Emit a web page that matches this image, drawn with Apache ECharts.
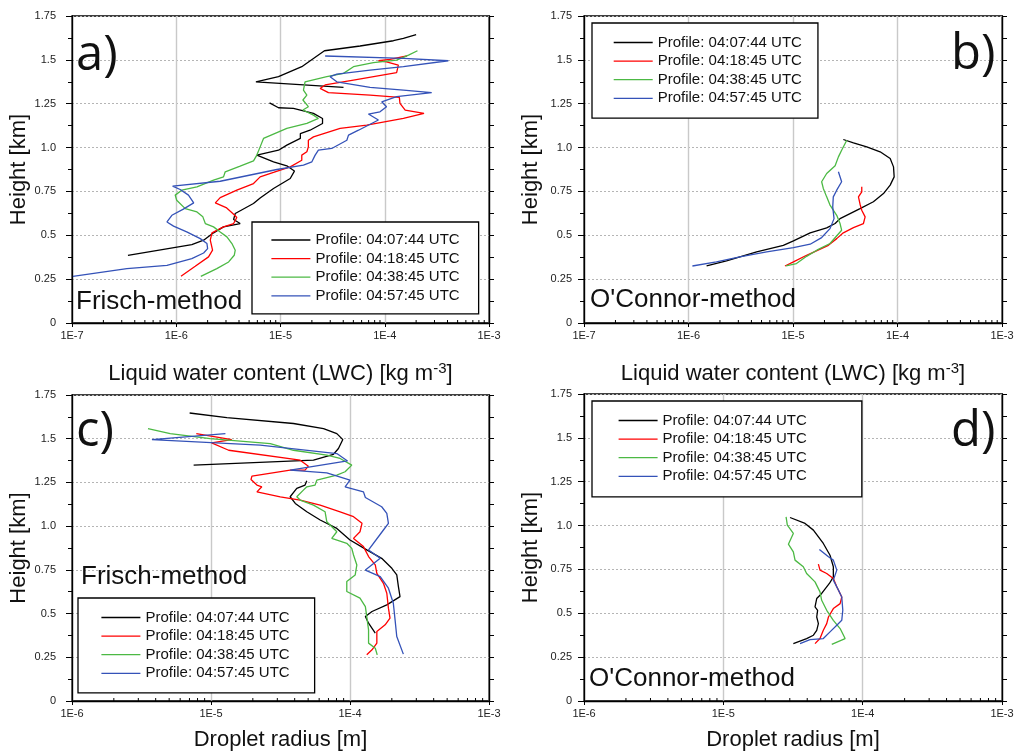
<!DOCTYPE html>
<html>
<head>
<meta charset="utf-8">
<script src="https://cdn.jsdelivr.net/npm/echarts@6/dist/echarts.min.js"></script>
<style>
html,body{margin:0;padding:0;background:#fff;}
#chart{width:1015px;height:751px;}
</style>
</head>
<body>
<div id="chart"></div>
<script>
// ---------- labels / categories ----------
const profileNames = ['Profile: 04:07:44 UTC','Profile: 04:18:45 UTC','Profile: 04:38:45 UTC','Profile: 04:57:45 UTC'];
const profileColors = ['#000000','#ff0000','#4cb944','#3452b8'];
const heightTicks = [0,0.25,0.5,0.75,1.0,1.25,1.5,1.75];
const heightTickLabels = ['0','0.25','0.5','0.75','1.0','1.25','1.5','1.75'];
const lwcDecades = [1e-7,1e-6,1e-5,1e-4,1e-3];
const lwcTickLabels = ['1E-7','1E-6','1E-5','1E-4','1E-3'];
const radDecades = [1e-6,1e-5,1e-4,1e-3];
const radTickLabels = ['1E-6','1E-5','1E-4','1E-3'];

// ---------- a) LWC, Frisch-method  [LWC kg m-3, height km] ----------
const lwcFrisch0407 = [[3.44e-7,0.386],[1.41e-6,0.447],[1.83e-6,0.472],[2.28e-6,0.514],[2.84e-6,0.548],[4.1e-6,0.567],[3.55e-6,0.590],[3.68e-6,0.624],[5.5e-6,0.681],[6.38e-6,0.713],[8.57e-6,0.767],[1.24e-5,0.824],[1.36e-5,0.866],[1.15e-5,0.896],[8.57e-6,0.919],[5.93e-6,0.957],[9.57e-6,0.985],[1.15e-5,1.014],[1.55e-5,1.052],[1.55e-5,1.080],[1.92e-5,1.099],[2.53e-5,1.137],[2.53e-5,1.166],[2.07e-5,1.195],[1.33e-5,1.223],[9.57e-6,1.227],[7.85e-6,1.255],['-','-'],[4.02e-5,1.343],[5.81e-6,1.375],[9.57e-6,1.404],[1.6e-5,1.461],[2.07e-5,1.508],[2.64e-5,1.552],[5.8e-5,1.579],[1.21e-4,1.609],[1.51e-4,1.623],[2.0e-4,1.644]];
const lwcFrisch0418 = [[1.11e-6,0.266],[1.52e-6,0.323],[2.04e-6,0.377],[2.23e-6,0.415],[2.12e-6,0.472],[2.2e-6,0.514],[2.84e-6,0.548],[3.55e-6,0.567],[3.81e-6,0.601],[3.55e-6,0.620],[3.01e-6,0.658],[2.37e-6,0.685],[2.64e-6,0.715],[3.81e-6,0.757],[5.51e-6,0.795],[6.38e-6,0.833],[8.57e-6,0.858],[1.24e-5,0.890],[1.6e-5,0.928],[1.6e-5,0.957],[1.79e-5,0.976],[1.85e-5,1.004],[1.85e-5,1.042],[2.07e-5,1.061],[3.73e-5,1.109],[6.72e-5,1.128],[1.51e-4,1.166],[2.38e-4,1.195],[1.57e-4,1.214],[1.4e-4,1.252],[1.38e-4,1.286],[7.23e-5,1.299],[2.88e-5,1.313],[2.4e-5,1.337],[2.68e-5,1.357],[5.01e-5,1.385],[1.3e-4,1.427],[1.35e-4,1.470],[1.04e-4,1.489],[8.69e-5,1.495],[1.12e-4,1.503],[1.63e-4,1.522]];
const lwcFrisch0438 = [[1.72e-6,0.266],[2.45e-6,0.310],[3.18e-6,0.348],[3.6e-6,0.386],[3.68e-6,0.415],[3.42e-6,0.453],[3.06e-6,0.491],[2.64e-6,0.519],[2.28e-6,0.548],[1.9e-6,0.567],[1.8e-6,0.605],[1.58e-6,0.633],[1.22e-6,0.652],[1.01e-6,0.700],[9.77e-7,0.729],[1.13e-6,0.757],[1.58e-6,0.776],[2.28e-6,0.814],[2.84e-6,0.833],[2.95e-6,0.862],[4.1e-6,0.894],[5.51e-6,0.924],[5.93e-6,0.957],[6.38e-6,1.004],[6.87e-6,1.052],[1.15e-5,1.109],[1.79e-5,1.138],[2.31e-5,1.166],[2.07e-5,1.185],[1.64e-5,1.214],[1.85e-5,1.233],[1.64e-5,1.271],[1.79e-5,1.299],[1.66e-5,1.328],[1.72e-5,1.375],[2.78e-5,1.404],[4.02e-5,1.423],[5.01e-5,1.461],[7.78e-5,1.484],[1.3e-4,1.499],[1.69e-4,1.527],[2.06e-4,1.552]];
const lwcFrisch0457 = [[1.02e-7,0.266],[3.36e-7,0.310],[8.15e-7,0.329],[1.41e-6,0.367],[1.83e-6,0.399],[2.0e-6,0.424],[1.97e-6,0.453],[1.7e-6,0.481],[1.26e-6,0.519],[9.42e-7,0.552],[8.15e-7,0.576],[9.08e-7,0.614],[1.17e-6,0.649],[1.47e-6,0.685],[1.31e-6,0.729],[1.09e-6,0.761],[9.23e-7,0.780],[2.64e-6,0.808],[9.23e-6,0.875],[1.66e-5,0.900],[2.0e-5,0.919],[2.15e-5,0.957],[2.31e-5,0.985],[3.1e-5,0.995],[4.33e-5,1.042],[4.49e-5,1.071],[5.6e-5,1.099],[8.69e-5,1.157],[6.97e-5,1.191],[9.0e-5,1.204],[1.04e-4,1.233],[9.35e-5,1.261],[1.3e-4,1.290],[2.82e-4,1.313],[1.51e-4,1.328],[7.23e-5,1.343],[3.47e-5,1.375],[2.99e-5,1.404],[3.47e-5,1.419],[7.23e-5,1.442],[1.51e-4,1.461],[4.07e-4,1.495],[1.51e-4,1.508],[2.68e-5,1.522]];

// ---------- b) LWC, O'Connor-method ----------
const lwcOConnor0407 = [[1.49e-6,0.325],[2.31e-6,0.354],[4.49e-6,0.405],[8.08e-6,0.443],[1.01e-5,0.468],[1.46e-5,0.514],[2.1e-5,0.542],[2.53e-5,0.567],[2.82e-5,0.595],[4.38e-5,0.652],[5.88e-5,0.691],[7.34e-5,0.738],[8.51e-5,0.786],[9.29e-5,0.833],[9.16e-5,0.890],[8.51e-5,0.938],[6.82e-5,0.976],[5.08e-5,1.004],[3.79e-5,1.027],[3.03e-5,1.046]];
const lwcOConnor0418 = [[8.38e-6,0.325],[1.01e-5,0.348],[1.35e-5,0.386],[2.18e-5,0.443],[2.62e-5,0.481],[3.03e-5,0.514],[3.79e-5,0.544],[4.72e-5,0.567],[4.9e-5,0.605],[4.55e-5,0.643],[4.38e-5,0.677],[4.23e-5,0.719],[4.55e-5,0.748],[4.55e-5,0.776]];
const lwcOConnor0438 = [[8.57e-6,0.325],[1.08e-5,0.339],[1.35e-5,0.380],[1.69e-5,0.415],[2.26e-5,0.453],[2.92e-5,0.529],[2.82e-5,0.567],[2.62e-5,0.614],[2.26e-5,0.672],[2.1e-5,0.719],[1.95e-5,0.767],[1.88e-5,0.805],[2.1e-5,0.852],[2.53e-5,0.896],[2.72e-5,0.947],[2.92e-5,0.985],[3.27e-5,1.042]];
const lwcOConnor0457 = [[1.09e-6,0.325],[1.85e-6,0.348],[3.1e-6,0.377],[5.6e-6,0.405],[1.01e-5,0.430],[1.46e-5,0.449],[1.88e-5,0.487],[2.26e-5,0.538],[2.47e-5,0.595],[2.4e-5,0.662],[2.43e-5,0.719],[2.62e-5,0.757],[2.92e-5,0.805],[2.72e-5,0.862]];

// ---------- c) droplet radius, Frisch-method [m, km] ----------
const radFrisch0407 = [[7.02e-6,1.647],[1.3e-5,1.621],[3.92e-5,1.587],[6.45e-5,1.558],[8.04e-5,1.529],[8.88e-5,1.495],[8.26e-5,1.444],[7.6e-5,1.411],[5.46e-5,1.377],[7.5e-6,1.349],['-','-'],[4.89e-5,1.259],[4.75e-5,1.235],[4.14e-5,1.216],[3.71e-5,1.168],[4.04e-5,1.130],[4.89e-5,1.082],[6.1e-5,1.035],[8.04e-5,0.987],[1.0e-4,0.921],[1.32e-4,0.864],[1.69e-4,0.816],[2.0e-4,0.759],[2.17e-4,0.721],[2.23e-4,0.654],[2.29e-4,0.597],[1.84e-4,0.550],[1.44e-4,0.512],[1.29e-4,0.483],[1.36e-4,0.445],[1.52e-4,0.388]];
const radFrisch0418 = [[7.84e-6,1.529],[1.41e-5,1.495],[1.01e-5,1.476],[1.34e-5,1.434],[4.38e-5,1.377],[5.02e-5,1.343],[4.75e-5,1.320],[3.71e-5,1.320],[1.97e-5,1.286],[1.94e-5,1.267],[2.14e-5,1.235],[2.32e-5,1.225],[2.14e-5,1.196],[3.15e-5,1.168],[4.38e-5,1.149],[6.1e-5,1.120],[8.49e-5,1.082],[1.06e-4,1.054],[1.22e-4,1.016],[1.18e-4,0.968],[1.06e-4,0.930],[1.25e-4,0.883],[1.36e-4,0.826],[1.52e-4,0.778],[1.56e-4,0.730],[1.74e-4,0.673],[1.84e-4,0.616],[1.89e-4,0.531],[1.94e-4,0.474],[1.79e-4,0.436],[1.56e-4,0.398],[1.56e-4,0.331],[1.44e-4,0.293],[1.32e-4,0.264]];
const radFrisch0438 = [[3.52e-6,1.558],[5.09e-6,1.529],[9.86e-6,1.501],[2.67e-5,1.472],[3.92e-5,1.434],[6.81e-5,1.406],[8.49e-5,1.387],[1.03e-4,1.349],[9.22e-5,1.311],[8.04e-5,1.292],[5.77e-5,1.263],[5.61e-5,1.235],[4.89e-5,1.225],[4.62e-5,1.206],[4.14e-5,1.168],[4.38e-5,1.149],[5.46e-5,1.120],[6.62e-5,1.082],[6.81e-5,1.025],[8.04e-5,0.968],[7.39e-5,0.930],[9.48e-5,0.902],[1.03e-4,0.873],[1.06e-4,0.835],[1.12e-4,0.778],[1.09e-4,0.721],[9.48e-5,0.683],[9.48e-5,0.626],[1.18e-4,0.588],[1.29e-4,0.540],[1.32e-4,0.483],[1.36e-4,0.407],[1.36e-4,0.331],[1.52e-4,0.302],[1.57e-4,0.264]];
const radFrisch0457 = [[1.27e-5,1.529],[3.76e-6,1.495],[2.26e-5,1.463],[8.04e-5,1.415],[9.6e-5,1.373],[3.71e-5,1.320],[6.81e-5,1.305],[1.0e-4,1.263],[9.22e-5,1.225],[1.25e-4,1.196],[1.29e-4,1.164],[1.69e-4,1.111],[1.84e-4,1.073],[1.89e-4,1.016],[1.74e-4,0.978],[1.36e-4,0.864],[1.65e-4,0.816],[1.29e-4,0.749],[1.65e-4,0.711],[1.89e-4,0.645],[2.05e-4,0.559],[2.11e-4,0.464],[2.17e-4,0.369],[2.42e-4,0.268]];

// ---------- d) droplet radius, O'Connor-method ----------
const radOConnor0407 = [[3.01e-5,1.046],[3.86e-5,1.012],[4.43e-5,0.974],[5.22e-5,0.898],[5.83e-5,0.831],[6.16e-5,0.765],[6.16e-5,0.708],[5.77e-5,0.670],[5.08e-5,0.613],[4.68e-5,0.584],[4.55e-5,0.536],[4.75e-5,0.517],[4.68e-5,0.479],[4.81e-5,0.441],[4.68e-5,0.403],[4.43e-5,0.375],[3.96e-5,0.356],[3.18e-5,0.327]];
const radOConnor0418 = [[4.81e-5,0.780],[4.94e-5,0.746],[5.52e-5,0.727],[6.16e-5,0.698],[6.52e-5,0.651],[7.08e-5,0.593],[6.89e-5,0.555],[6.16e-5,0.527],[5.68e-5,0.479],[5.52e-5,0.441],[5.22e-5,0.403],[4.94e-5,0.356],[4.55e-5,0.327]];
const radOConnor0438 = [[2.82e-5,1.050],[2.88e-5,1.002],[3.18e-5,0.955],[2.93e-5,0.894],[3.18e-5,0.850],[3.27e-5,0.803],[3.75e-5,0.765],[3.96e-5,0.727],[4.55e-5,0.679],[4.94e-5,0.622],[5.08e-5,0.574],[5.52e-5,0.517],[6.16e-5,0.460],[6.89e-5,0.413],[7.48e-5,0.356],[6.0e-5,0.323]];
const radOConnor0457 = [[4.89e-5,0.864],[5.68e-5,0.822],[6.16e-5,0.803],[6.52e-5,0.746],[6.16e-5,0.689],[6.7e-5,0.632],[7.08e-5,0.593],[7.2e-5,0.517],[7.08e-5,0.460],[6.52e-5,0.432],[5.83e-5,0.394],[5.22e-5,0.356],[4.19e-5,0.350],[3.55e-5,0.327]];

// ---------- build chart ----------
const FONT = '"Liberation Sans", Arial, sans-serif';
const panels = [
  { grid:{left:72, top:16, width:417, height:307}, decades:lwcDecades, labels:lwcTickLabels,
    xName:'Liquid water content (LWC) [kg m{sup|-3}]', xGap:38, yMargin:16,
    data:[lwcFrisch0407,lwcFrisch0418,lwcFrisch0438,lwcFrisch0457],
    legend:{left:252, top:222, padding:[10.5,19,10.5,19.4]} },
  { grid:{left:584, top:16, width:418, height:307}, decades:lwcDecades, labels:lwcTickLabels,
    xName:'Liquid water content (LWC) [kg m{sup|-3}]', xGap:38, yMargin:12,
    data:[lwcOConnor0407,lwcOConnor0418,lwcOConnor0438,lwcOConnor0457],
    legend:{left:592, top:23, padding:[12,16,12.4,21.7]} },
  { grid:{left:72, top:395, width:417, height:306}, decades:radDecades, labels:radTickLabels,
    xName:'Droplet radius [m]', xGap:26, yMargin:16,
    data:[radFrisch0407,radFrisch0418,radFrisch0438,radFrisch0457],
    legend:{left:78, top:598, padding:[12,25,12,23.4]} },
  { grid:{left:584, top:394, width:418, height:307}, decades:radDecades, labels:radTickLabels,
    xName:'Droplet radius [m]', xGap:26, yMargin:12,
    data:[radOConnor0407,radOConnor0418,radOConnor0438,radOConnor0457],
    legend:{left:592, top:401, padding:[12,55,13,26.6]} }
];

const grids=[], xAxes=[], yAxes=[], series=[], legends=[];
panels.forEach((p,i)=>{
  grids.push(Object.assign({show:true, borderColor:'#000', borderWidth:1.3, backgroundColor:'rgba(0,0,0,0)',
    containLabel:false, outerBoundsMode:'none'}, p.grid));
  const xmin = p.decades[0], xmax = p.decades[p.decades.length-1];
  xAxes.push({
    type:'log', logBase:10, gridIndex:i, min:xmin, max:xmax,
    axisLine:{show:true, lineStyle:{color:'#000', width:1.3}},
    axisTick:{show:true, length:4, lineStyle:{color:'#000', width:1}},
    axisLabel:{fontFamily:FONT, fontSize:11, color:'#222', margin:7,
      formatter:v=>p.labels[Math.round(Math.log10(v)-Math.log10(xmin))]},
    splitLine:{show:true, lineStyle:{color:'#c9c9c9', width:1.4}},
    name:p.xName, nameLocation:'middle', nameGap:p.xGap,
    nameTextStyle:{fontFamily:FONT, fontSize:22, color:'#111', lineHeight:26,
      rich:{sup:{fontFamily:FONT, fontSize:15, color:'#111', verticalAlign:'top', lineHeight:14}}}
  });
  const yBase = {
    type:'value', gridIndex:i, min:0, max:1.75, interval:0.25,
    axisLine:{show:true, lineStyle:{color:'#000', width:1.3}},
  };
  yAxes.push(Object.assign({}, yBase, {
    position:'left',
    axisTick:{show:true, length:6, lineStyle:{color:'#000', width:1}},
    minorTick:{show:true, splitNumber:2, length:4, lineStyle:{color:'#000', width:1}},
    axisLabel:{fontFamily:FONT, fontSize:11, color:'#222', margin:p.yMargin,
      formatter:v=>heightTickLabels[Math.round(v*4)]},
    splitLine:{show:true, lineStyle:{color:'#b5b5b5', width:1, type:[2,2]}},
    name:'Height [km]', nameLocation:'middle', nameGap:42,
    nameTextStyle:{fontFamily:FONT, fontSize:22, color:'#111'}
  }));
  yAxes.push(Object.assign({}, yBase, {
    position:'right',
    axisTick:{show:true, length:5, lineStyle:{color:'#000', width:1}},
    minorTick:{show:true, splitNumber:2, length:5, lineStyle:{color:'#000', width:1}},
    axisLabel:{show:false}, splitLine:{show:false}
  }));
  p.data.forEach((d,k)=>{
    series.push({
      type:'line', name:profileNames[k], xAxisIndex:i, yAxisIndex:2*i, data:d,
      showSymbol:false, symbol:'none', connectNulls:false, animation:false, z:3,
      lineStyle:{color:profileColors[k], width:1.3}, itemStyle:{color:profileColors[k]}
    });
  });
  // minor ticks of the log axis (2..9 x each decade), drawn through the axis scale
  const minor = [];
  for (let j=0;j<p.decades.length-1;j++) for (let m=2;m<=9;m++) minor.push([m*p.decades[j],0]);
  series.push({
    type:'custom', xAxisIndex:i, yAxisIndex:2*i, data:minor, silent:true, animation:false, z:5,
    renderItem:(params, api)=>{
      const c = api.coord([api.value(0), api.value(1)]);
      return {type:'line', shape:{x1:c[0], y1:c[1], x2:c[0], y2:c[1]-3}, style:{stroke:'#000', lineWidth:1}};
    }
  });
  legends.push({
    data:profileNames.map((n,k)=>({name:n, icon:'path://M0,0 L40,0 L40,1.3 L0,1.3 Z', itemStyle:{color:profileColors[k]}})),
    orient:'vertical', left:p.legend.left, top:p.legend.top, padding:p.legend.padding,
    itemWidth:39, itemHeight:14, itemGap:3.6, selectedMode:false, symbolKeepAspect:true,
    borderColor:'#000', borderWidth:1.3, backgroundColor:'#fff',
    textStyle:{fontFamily:FONT, fontSize:15, color:'#111', lineHeight:14}
  });
});

const labelFont = '"Open Sans", "Liberation Sans", sans-serif';
const graphics = [
  {type:'text', x:76, y:56, z:10, style:{text:'a)', font:'49px '+labelFont, fill:'#111', verticalAlign:'middle'}},
  {type:'text', x:951, y:55, z:10, style:{text:'b)', font:'49px '+labelFont, fill:'#111', verticalAlign:'middle'}},
  {type:'text', x:76, y:432, z:10, style:{text:'c)', font:'49px '+labelFont, fill:'#111', verticalAlign:'middle'}},
  {type:'text', x:951, y:432, z:10, style:{text:'d)', font:'49px '+labelFont, fill:'#111', verticalAlign:'middle'}},
  {type:'text', x:76, y:302, z:10, style:{text:'Frisch-method', font:'26px '+FONT, fill:'#111', verticalAlign:'middle'}},
  {type:'text', x:590, y:300, z:10, style:{text:"O'Connor-method", font:'26px '+FONT, fill:'#111', verticalAlign:'middle'}},
  {type:'text', x:81, y:577, z:10, style:{text:'Frisch-method', font:'26px '+FONT, fill:'#111', verticalAlign:'middle'}},
  {type:'text', x:589, y:679, z:10, style:{text:"O'Connor-method", font:'26px '+FONT, fill:'#111', verticalAlign:'middle'}}
];

const chart = echarts.init(document.getElementById('chart'), null, {renderer:'canvas'});
chart.setOption({
  backgroundColor:'#ffffff',
  animation:false,
  grid:grids, xAxis:xAxes, yAxis:yAxes, series:series, legend:legends, graphic:graphics
});
</script>
</body>
</html>
